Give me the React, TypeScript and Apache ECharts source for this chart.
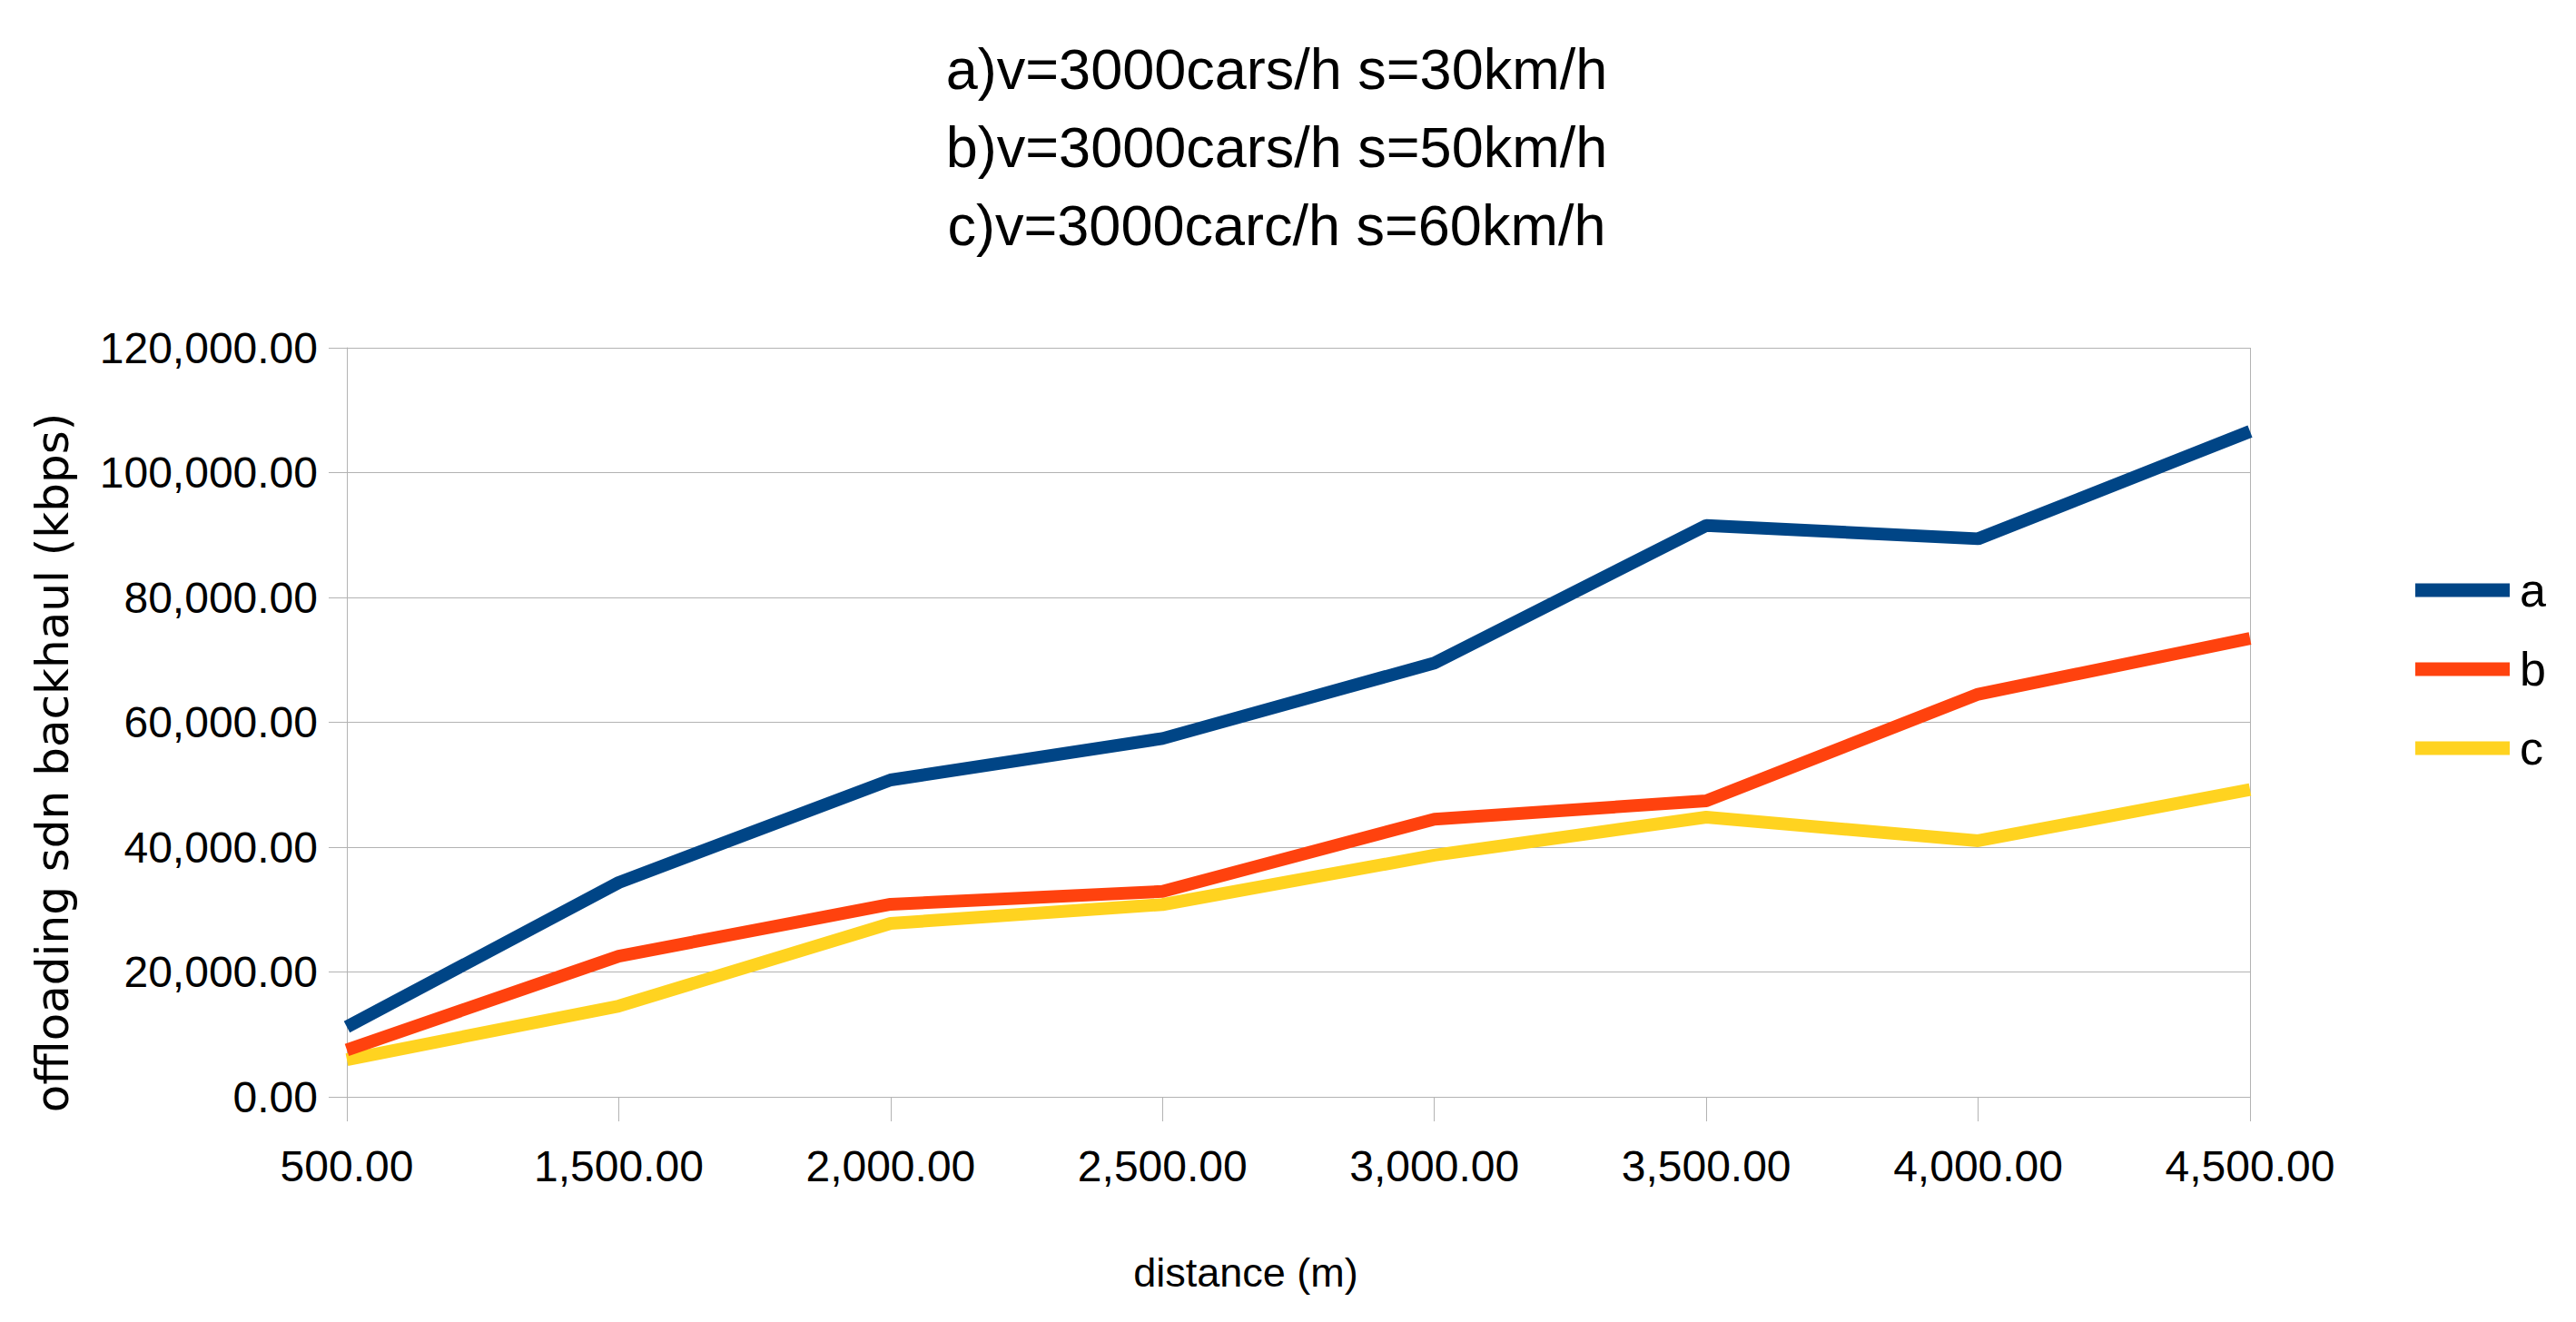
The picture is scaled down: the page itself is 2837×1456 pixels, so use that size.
import React, { useEffect, useRef } from "react";
import * as echarts from "echarts";

const titleLines = [
  "a)v=3000cars/h s=30km/h",
  "b)v=3000cars/h s=50km/h",
  "c)v=3000carc/h s=60km/h",
];
const categories = [
  "500.00",
  "1,500.00",
  "2,000.00",
  "2,500.00",
  "3,000.00",
  "3,500.00",
  "4,000.00",
  "4,500.00",
];
const seriesNames = ["a", "b", "c"];
const seriesA = [11200, 34330, 50760, 57400, 69500, 91540, 89400, 106600];
const seriesB = [7500, 22540, 30840, 32900, 44480, 47420, 64500, 73430];
const seriesC = [5960, 14540, 27780, 30800, 38700, 44800, 41020, 49220];
const colors = ["#004586", "#ff420e", "#ffd320"];
const yMin = 0;
const yMax = 120000;
const yInterval = 20000;
const xName = "distance (m)";
const yName = "offloading sdn backhaul (kbps)";

const NARROW = "'Liberation Sans Narrow', 'Liberation Sans', Arial, sans-serif";
const GRID_COLOR = "#b3b3b3";

export default function App() {
  const ref = useRef<HTMLDivElement>(null);
  useEffect(() => {
    document.body.style.margin = "0";
    if (!ref.current) return;
    const chart = echarts.init(ref.current, null, { renderer: "svg" });
    const data = [seriesA, seriesB, seriesC];
    chart.setOption({
      animation: false,
      backgroundColor: "#ffffff",
      color: colors,
      title: {
        text: titleLines.join("\n"),
        left: 1406,
        top: 33,
        textAlign: "center",
        padding: 0,
        textStyle: {
          fontFamily: NARROW,
          fontSize: 63,
          lineHeight: 86,
          fontWeight: "normal",
          color: "#000000",
        },
      },
      legend: {
        orient: "vertical",
        left: 2660,
        top: 624,
        padding: 0,
        itemWidth: 104,
        itemHeight: 15,
        itemGap: 35,
        icon: "rect",
        data: seriesNames,
        textStyle: {
          fontFamily: NARROW,
          fontSize: 52,
          color: "#000000",
          padding: [0, 0, 0, 6],
        },
      },
      grid: {
        left: 382,
        right: 359,
        top: 383,
        bottom: 248,
        containLabel: false,
        outerBoundsMode: "none",
      },
      xAxis: {
        type: "category",
        data: categories,
        boundaryGap: false,
        name: xName,
        nameLocation: "middle",
        nameGap: 171,
        nameTextStyle: {
          fontFamily: NARROW,
          fontSize: 45,
          color: "#000000",
          padding: [0, 116, 0, 0],
        },
        axisLine: { show: true, lineStyle: { color: GRID_COLOR, width: 1 } },
        axisTick: {
          show: true,
          alignWithLabel: true,
          length: 27,
          lineStyle: { color: GRID_COLOR, width: 1 },
        },
        axisLabel: {
          fontFamily: NARROW,
          fontSize: 48,
          color: "#000000",
          margin: 52,
          interval: 0,
        },
        splitLine: {
          show: true,
          interval: (index: number) => index === categories.length - 1,
          lineStyle: { color: GRID_COLOR, width: 1 },
        },
      },
      yAxis: {
        type: "value",
        min: yMin,
        max: yMax,
        interval: yInterval,
        axisLine: { show: true, lineStyle: { color: GRID_COLOR, width: 1 } },
        axisTick: {
          show: true,
          length: 20,
          lineStyle: { color: GRID_COLOR, width: 1 },
        },
        axisLabel: {
          fontFamily: NARROW,
          fontSize: 48,
          color: "#000000",
          margin: 32,
          formatter: (v: number) =>
            v.toLocaleString("en-US", {
              minimumFractionDigits: 2,
              maximumFractionDigits: 2,
            }),
        },
        splitLine: { show: true, lineStyle: { color: GRID_COLOR, width: 1 } },
      },
      graphic: [
        {
          type: "text",
          x: 58,
          y: 840,
          rotation: Math.PI / 2,
          style: {
            text: yName,
            fontFamily: "'DejaVu Sans', sans-serif",
            fontSize: 50,
            fill: "#000000",
            align: "center",
            verticalAlign: "middle",
          },
        },
      ],
      series: seriesNames.map((name, i) => ({
        name,
        type: "line",
        data: data[i],
        showSymbol: false,
        symbol: "none",
        lineStyle: { width: 14, color: colors[i] },
        itemStyle: { color: colors[i] },
        emphasis: { disabled: true },
        z: 3 - i,
      })),
    });
    return () => chart.dispose();
  }, []);
  return (
    <div
      ref={ref}
      style={{ width: 2837, height: 1456, background: "#ffffff" }}
    />
  );
}
